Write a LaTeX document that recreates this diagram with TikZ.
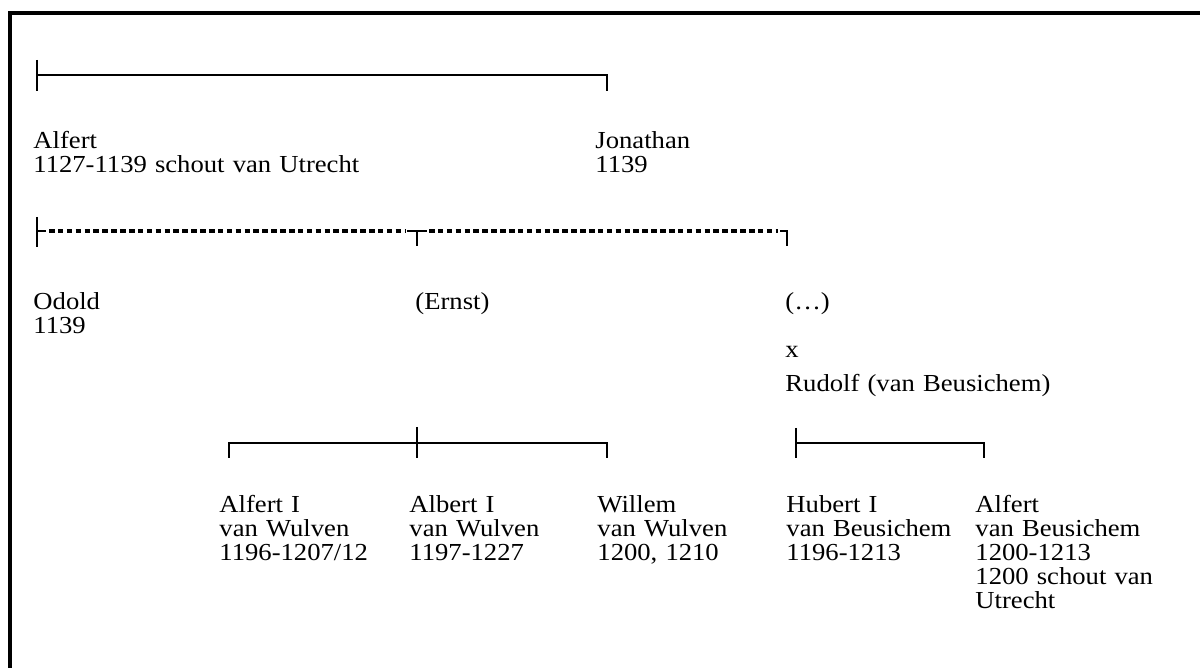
\documentclass[tikz,border=0pt]{standalone}
\usepackage{fontspec}
\setmainfont{Liberation Serif}[FakeStretch=1.09]
\usetikzlibrary{positioning,calc}
\tikzset{
  person/.style={anchor=base west,inner sep=0pt,align=left,text width=200pt,
    font=\fontsize{11}{10.8}\selectfont},
  bar/.style={line width=0.8pt},
  dotbar/.style={line width=2pt,dash pattern=on 2.5pt off 1.5pt},
  frame/.style={line width=1.6pt}
}
\begin{document}
\begin{tikzpicture}[x=0.45pt,y=-0.45pt]
        \useasboundingbox (0,0) rectangle (1200,668);
        % draw frame (top and left edge)
        \draw[frame] (10,700) -- (10,13) -- (1230,13);
        % draw first line
        \coordinate (g1l) at (37,75);
        \coordinate (g1r) at (607,75);
        \draw[bar] (37,60) -- (37,91);
        \draw[bar] (g1l) -- (g1r) -- ++(0,16);
        \node[person] (alfert) at (33,149) {Alfert\\1127-1139 schout van Utrecht};
        \node[person] (jonathan) at (595,149) {Jonathan\\1139};
        % draw dotted line
        \coordinate (g2l) at (37,231);
        \coordinate (g2m) at (417,231);
        \coordinate (g2r) at (787,231);
        \draw[bar] (37,217) -- (37,247);
        \draw[bar] (g2l) -- ++(9,0);
        \draw[bar] ($(g2m)+(-10,0)$) -- ($(g2m)+(10,0)$) (g2m) -- ++(0,15);
        \draw[bar] ($(g2r)+(-7,0)$) -- (g2r) -- ++(0,15);
        \draw[dotbar] ($(g2l)+(12,0)$) -- ($(g2m)+(-12,0)$);
        \draw[dotbar] ($(g2m)+(12,0)$) -- ($(g2r)+(-9,0)$);
        \node[person] (odold) at (33,310) {Odold\\1139};
        \node[person] (ernst) at (415,310) {(Ernst)};
        \node[person] (onbekend) at (785,310) {(…)};
        \node[person] (huwelijk) at (785,358) {x};
        \node[person] (rudolf) at (785,392) {Rudolf (van Beusichem)};
        % draw lines of the sons
        \coordinate (g3l) at (229,443);
        \coordinate (g3m) at (417,443);
        \coordinate (g3r) at (607,443);
        \draw[bar] (g3l) ++(0,15) -- (g3l) -- (g3r) -- ++(0,15);
        \draw[bar] (417,427) -- (417,458);
        \coordinate (g4l) at (796,443);
        \coordinate (g4r) at (984,443);
        \draw[bar] (796,428) -- (796,458);
        \draw[bar] (g4l) -- (g4r) -- ++(0,15);
        % draw nodes
        \node[person] (alfertI) at (219,513) {Alfert I\\van Wulven\\1196-1207/12};
        \node[person] (albertI) at (409,513) {Albert I\\van Wulven\\1197-1227};
        \node[person] (willem) at (597,513) {Willem\\van Wulven\\1200, 1210};
        \node[person] (hubertI) at (786,513) {Hubert I\\van Beusichem\\1196-1213};
        \node[person] (alfertB) at (975,513) {Alfert\\van Beusichem\\1200-1213\\1200 schout van\\Utrecht};
\end{tikzpicture}
\end{document}
